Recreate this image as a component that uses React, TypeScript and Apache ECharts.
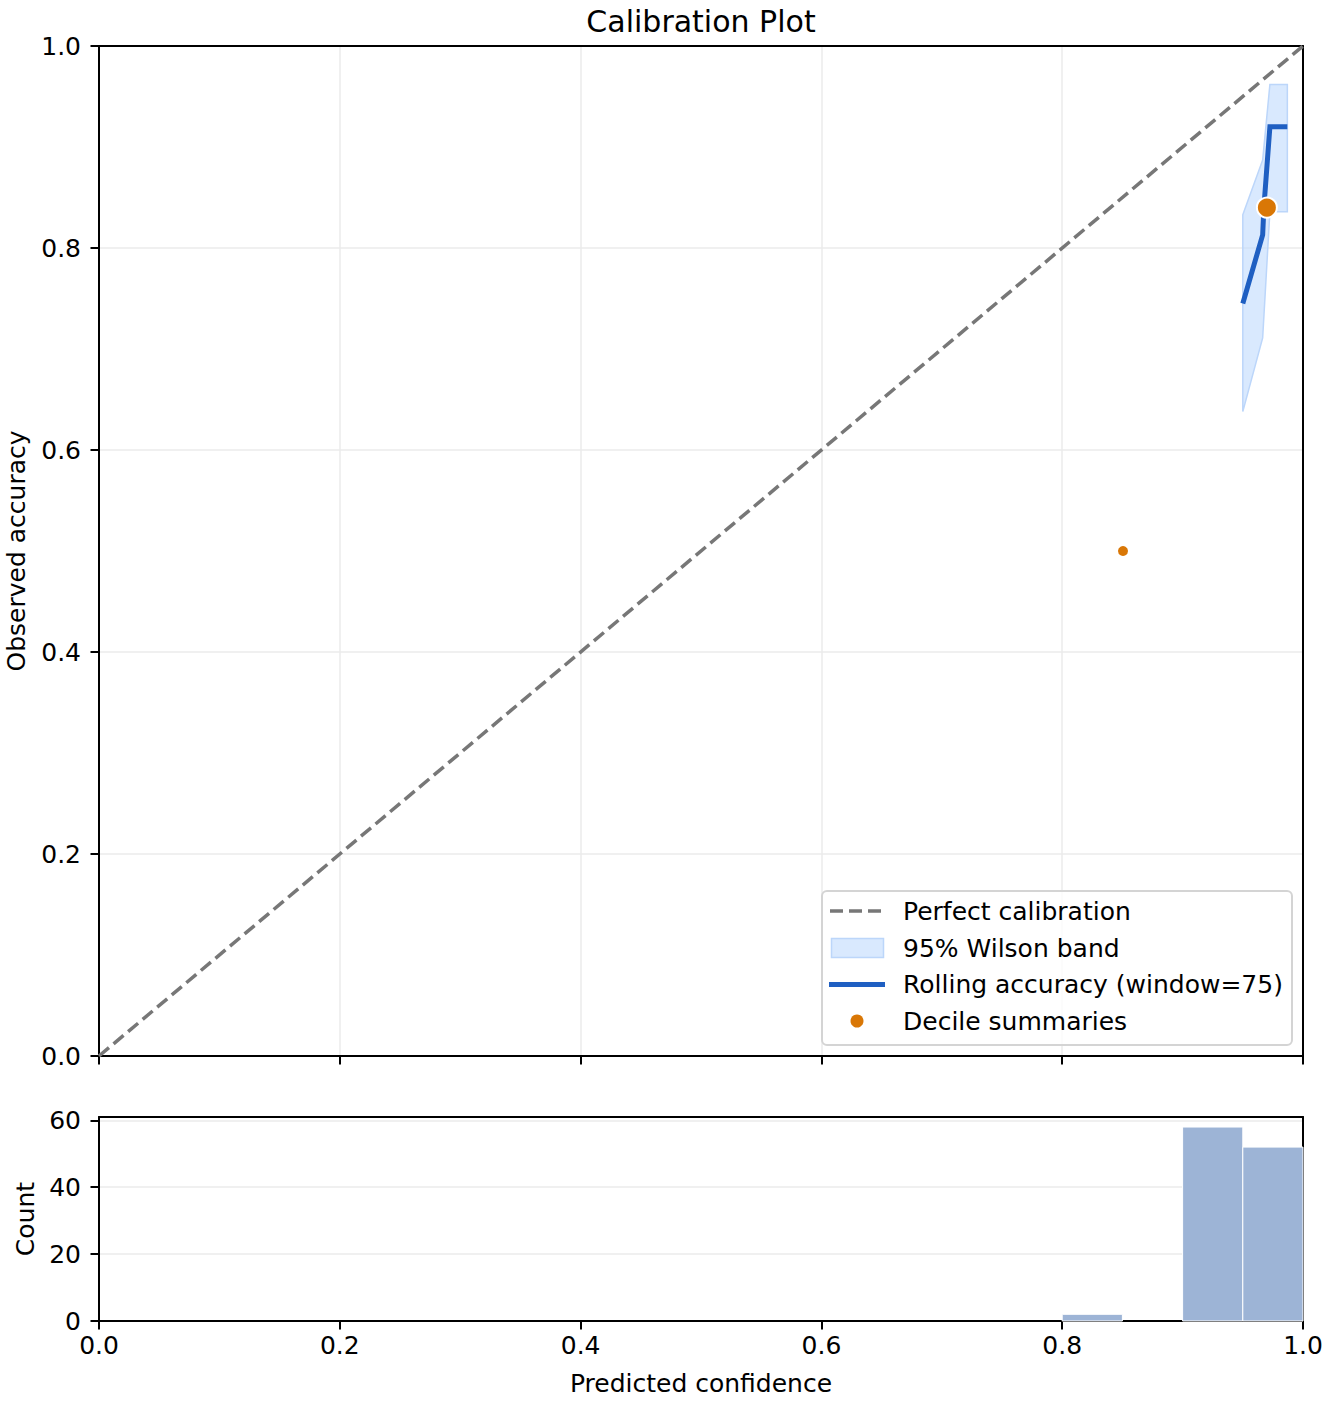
import React, { useEffect, useRef } from "react";
import * as echarts from "echarts";

// ---- data ----
const diagX = [0, 1];
const diagY = [0, 1];

const rollX = [0.950, 0.9665, 0.9675, 0.9725, 0.987];
const rollY = [0.745, 0.813, 0.84, 0.92, 0.92];

const bandX = [0.950, 0.9665, 0.9725, 0.987];
const bandLow = [0.638, 0.711, 0.836, 0.836];
const bandHigh = [0.833, 0.887, 0.962, 0.962];

const decileX = [0.8505, 0.970];
const decileY = [0.500, 0.840];
const decileN = [2, 110];

const binStart = [0.80, 0.90, 0.95];
const binEnd = [0.85, 0.95, 1.00];
const binCount = [2, 58, 52];

const countTicks = [0, 20, 40, 60];

const titleText = "Calibration Plot";
const legendLabels = [
  "Perfect calibration",
  "95% Wilson band",
  "Rolling accuracy (window=75)",
  "Decile summaries",
];

const FONT = "DejaVu Sans";
const FS = 25;
const BLUE = "#1f5fc2";
const ORANGE = "#d97706";
const GRIDC = "#ebebeb";

export default function App() {
  const ref = useRef<HTMLDivElement>(null);

  useEffect(() => {
    document.body.style.margin = "0";
    const chart = echarts.init(ref.current!, null, { renderer: "svg" });

    const axisCommon = {
      axisLine: { show: true, onZero: false, lineStyle: { color: "#000", width: 2 } },
      axisTick: { show: true, length: 8.5, lineStyle: { color: "#000", width: 2 } },
      nameTextStyle: { fontFamily: FONT, fontSize: FS, color: "#000" },
    };
    const frameAxis = {
      axisLine: { show: true, onZero: false, lineStyle: { color: "#000", width: 2 } },
      axisTick: { show: false },
      axisLabel: { show: false },
      splitLine: { show: false },
    };

    const lx = 822, ly = 891, lw = 470, lh = 154;
    const rowY = [911, 948, 984.5, 1021];
    const textX = 903;

    const option: any = {
      animation: false,
      backgroundColor: "#fff",
      grid: [
        { left: 99, top: 46, width: 1204, height: 1010, show: false, containLabel: false, outerBoundsMode: "none" },
        { left: 99, top: 1117, width: 1204, height: 204, show: false, containLabel: false, outerBoundsMode: "none" },
      ],
      xAxis: [
        {
          ...axisCommon,
          type: "value",
          gridIndex: 0,
          position: "bottom",
          min: 0,
          max: 1,
          interval: 0.2,
          axisLabel: { show: false },
          splitLine: { show: true, lineStyle: { color: GRIDC, width: 1.5 } },
        },
        {
          ...axisCommon,
          type: "value",
          gridIndex: 1,
          position: "bottom",
          min: 0,
          max: 1,
          interval: 0.2,
          name: "Predicted confidence",
          nameLocation: "middle",
          nameGap: 50,
          axisLabel: {
            show: true,
            margin: 12,
            fontFamily: FONT,
            fontSize: FS,
            color: "#000",
            formatter: (v: number) => v.toFixed(1),
          },
          splitLine: { show: false },
        },
        { ...frameAxis, type: "value", gridIndex: 0, position: "top", min: 0, max: 1 },
        { ...frameAxis, type: "value", gridIndex: 1, position: "top", min: 0, max: 1 },
      ],
      yAxis: [
        {
          ...axisCommon,
          type: "value",
          gridIndex: 0,
          position: "left",
          min: 0,
          max: 1,
          interval: 0.2,
          name: "Observed accuracy",
          nameLocation: "middle",
          nameGap: 70,
          axisLabel: {
            show: true,
            margin: 18,
            fontFamily: FONT,
            fontSize: FS,
            color: "#000",
            formatter: (v: number) => v.toFixed(1),
          },
          splitLine: { show: true, lineStyle: { color: GRIDC, width: 1.5 } },
        },
        {
          ...axisCommon,
          type: "value",
          gridIndex: 1,
          position: "left",
          min: 0,
          max: 61,
          axisTick: { ...axisCommon.axisTick, customValues: countTicks },
          name: "Count",
          nameLocation: "middle",
          nameGap: 58,
          axisLabel: {
            show: true,
            margin: 18,
            fontFamily: FONT,
            fontSize: FS,
            color: "#000",
            customValues: countTicks,
          },
          splitLine: { show: true, lineStyle: { color: GRIDC, width: 1.5 } },
        },
        { ...frameAxis, type: "value", gridIndex: 0, position: "right", min: 0, max: 1 },
        { ...frameAxis, type: "value", gridIndex: 1, position: "right", min: 0, max: 61 },
      ],
      series: [
        {
          type: "line",
          name: legendLabels[0],
          xAxisIndex: 0,
          yAxisIndex: 0,
          data: diagX.map((x, i) => [x, diagY[i]]),
          symbol: "none",
          lineStyle: { color: "#777777", width: 3.5, type: [13, 6] },
          z: 2,
        },
        {
          type: "custom",
          name: legendLabels[1],
          xAxisIndex: 0,
          yAxisIndex: 0,
          data: bandX.map((x, i) => [x, bandHigh[i], bandLow[i]]),
          encode: { x: 0, y: [1, 2] },
          renderItem: (params: any, api: any) => {
            if (params.dataIndex !== 0) return null;
            const pts: number[][] = [];
            for (let i = 0; i < bandX.length; i++) pts.push(api.coord([bandX[i], bandHigh[i]]));
            for (let i = bandX.length - 1; i >= 0; i--) pts.push(api.coord([bandX[i], bandLow[i]]));
            return {
              type: "polygon",
              shape: { points: pts },
              style: { fill: "rgba(191,219,254,0.6)", stroke: "#bcd6fa", lineWidth: 1.5 },
            };
          },
          z: 3,
        },
        {
          type: "line",
          name: legendLabels[2],
          xAxisIndex: 0,
          yAxisIndex: 0,
          data: rollX.map((x, i) => [x, rollY[i]]),
          symbol: "none",
          lineStyle: { color: BLUE, width: 5, cap: "butt", join: "miter" },
          z: 4,
        },
        {
          type: "scatter",
          name: legendLabels[3],
          xAxisIndex: 0,
          yAxisIndex: 0,
          data: decileX.map((x, i) => [x, decileY[i], decileN[i]]),
          symbolSize: (v: number[]) => (v[2] > 10 ? 20 : 12),
          itemStyle: { color: ORANGE, borderColor: "#fff", borderWidth: 2, opacity: 1 },
          z: 5,
        },
        {
          type: "custom",
          xAxisIndex: 1,
          yAxisIndex: 1,
          data: binStart.map((s, i) => [s, binEnd[i], binCount[i]]),
          encode: { x: [0, 1], y: 2 },
          renderItem: (params: any, api: any) => {
            const p0 = api.coord([api.value(0), api.value(2)]);
            const p1 = api.coord([api.value(1), 0]);
            return {
              type: "rect",
              shape: { x: p0[0], y: p0[1], width: p1[0] - p0[0], height: p1[1] - p0[1] },
              style: { fill: "#9db4d6", stroke: "#ffffff", lineWidth: 1 },
            };
          },
          z: 2,
        },
      ],
      graphic: [
        {
          type: "text",
          x: 701,
          y: 21,
          z: 100,
          style: {
            text: titleText,
            fontFamily: FONT,
            fontSize: 30,
            fill: "#000",
            textAlign: "center",
            textVerticalAlign: "middle",
          },
        },
        {
          type: "group",
          z: 100,
          children: [
            {
              type: "rect",
              shape: { x: lx, y: ly, width: lw, height: lh, r: 5 },
              style: { fill: "rgba(255,255,255,0.8)", stroke: "#d4d4d4", lineWidth: 2 },
              z: 100,
            },
            {
              type: "line",
              shape: { x1: 830, y1: rowY[0], x2: 883, y2: rowY[0] },
              style: { stroke: "#777777", lineWidth: 3.5, lineDash: [13, 6] },
              z: 101,
            },
            {
              type: "rect",
              shape: { x: 831.5, y: rowY[1] - 9.5, width: 52, height: 19 },
              style: { fill: "rgba(191,219,254,0.6)", stroke: "#bcd6fa", lineWidth: 1.5 },
              z: 101,
            },
            {
              type: "line",
              shape: { x1: 829, y1: rowY[2], x2: 885, y2: rowY[2] },
              style: { stroke: BLUE, lineWidth: 5 },
              z: 101,
            },
            {
              type: "circle",
              shape: { cx: 857, cy: rowY[3], r: 6.5 },
              style: { fill: ORANGE },
              z: 101,
            },
            ...legendLabels.map((t, i) => ({
              type: "text",
              x: textX,
              y: rowY[i],
              style: {
                text: t,
                fontFamily: FONT,
                fontSize: FS,
                fill: "#000",
                textVerticalAlign: "middle",
                textAlign: "left",
              },
              z: 102,
            })),
          ],
        },
      ],
    };

    chart.setOption(option);
    return () => chart.dispose();
  }, []);

  return <div ref={ref} style={{ width: 1332, height: 1404 }} />;
}
